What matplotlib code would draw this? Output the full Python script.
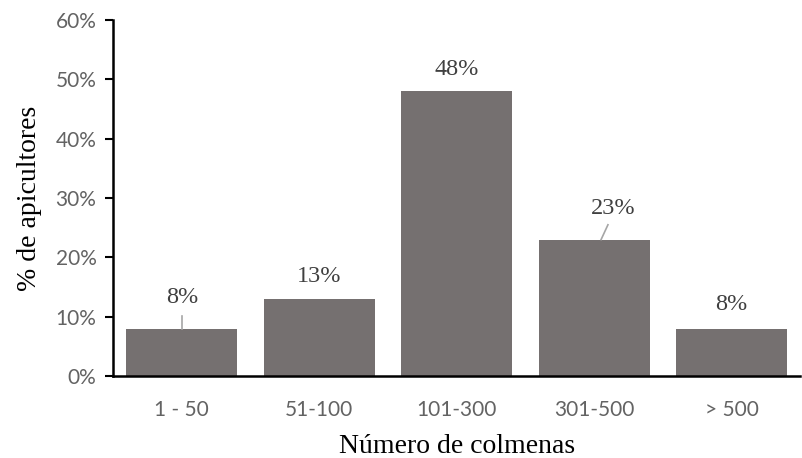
import matplotlib.pyplot as plt
import numpy as np

categorias = ['1 - 50', '51-100', '101-300', '301-500', '> 500']
porcentajes = [8, 13, 48, 23, 8]

# label placement (y of label centre, in %) and leader lines
label_y = [13.2, 16.7, 51.6, 28.3, 12.1]
label_dx = [0, 0, 0, 0.14, 0]

fig = plt.figure(figsize=(8.02, 4.58), dpi=100)
ax = fig.add_axes([0.141, 0.179, 0.857, 0.777])

x = np.arange(len(categorias))
ax.bar(x, porcentajes, width=0.81, color='#757070', zorder=2)

for i, v in enumerate(porcentajes):
    ax.text(x[i] + label_dx[i], label_y[i], f'{v}%', ha='center', va='center',
            fontsize=17.5, family='Liberation Serif', color='#404040')

# leader lines
ax.plot([0, 0], [porcentajes[0], 10.2], color='#a6a6a6', lw=1.2)
ax.plot([3.05, 3.10], [porcentajes[3], 25.5], color='#a6a6a6', lw=1.2)

ax.set_xlim(-0.5, 4.5)
ax.set_ylim(0, 60)
ax.set_yticks(range(0, 61, 10))
ax.set_yticklabels([f'{t}%' for t in range(0, 61, 10)])
ax.set_xticks(x)
ax.set_xticklabels(categorias)

for lab in ax.get_xticklabels() + ax.get_yticklabels():
    lab.set_family('Lato')
    lab.set_fontsize(15)
    lab.set_color('#636363')

ax.tick_params(axis='x', length=0, pad=17)
ax.tick_params(axis='y', length=6, width=1.5, direction='out', pad=6)

ax.spines['top'].set_visible(False)
ax.spines['right'].set_visible(False)
ax.spines['left'].set_linewidth(1.8)
ax.spines['bottom'].set_linewidth(1.8)

ax.set_xlabel('Número de colmenas', family='Liberation Serif', fontsize=20, labelpad=10)
ax.set_ylabel('% de apicultores', family='Liberation Serif', fontsize=20, labelpad=10)

plt.savefig('out.png', dpi=100)
